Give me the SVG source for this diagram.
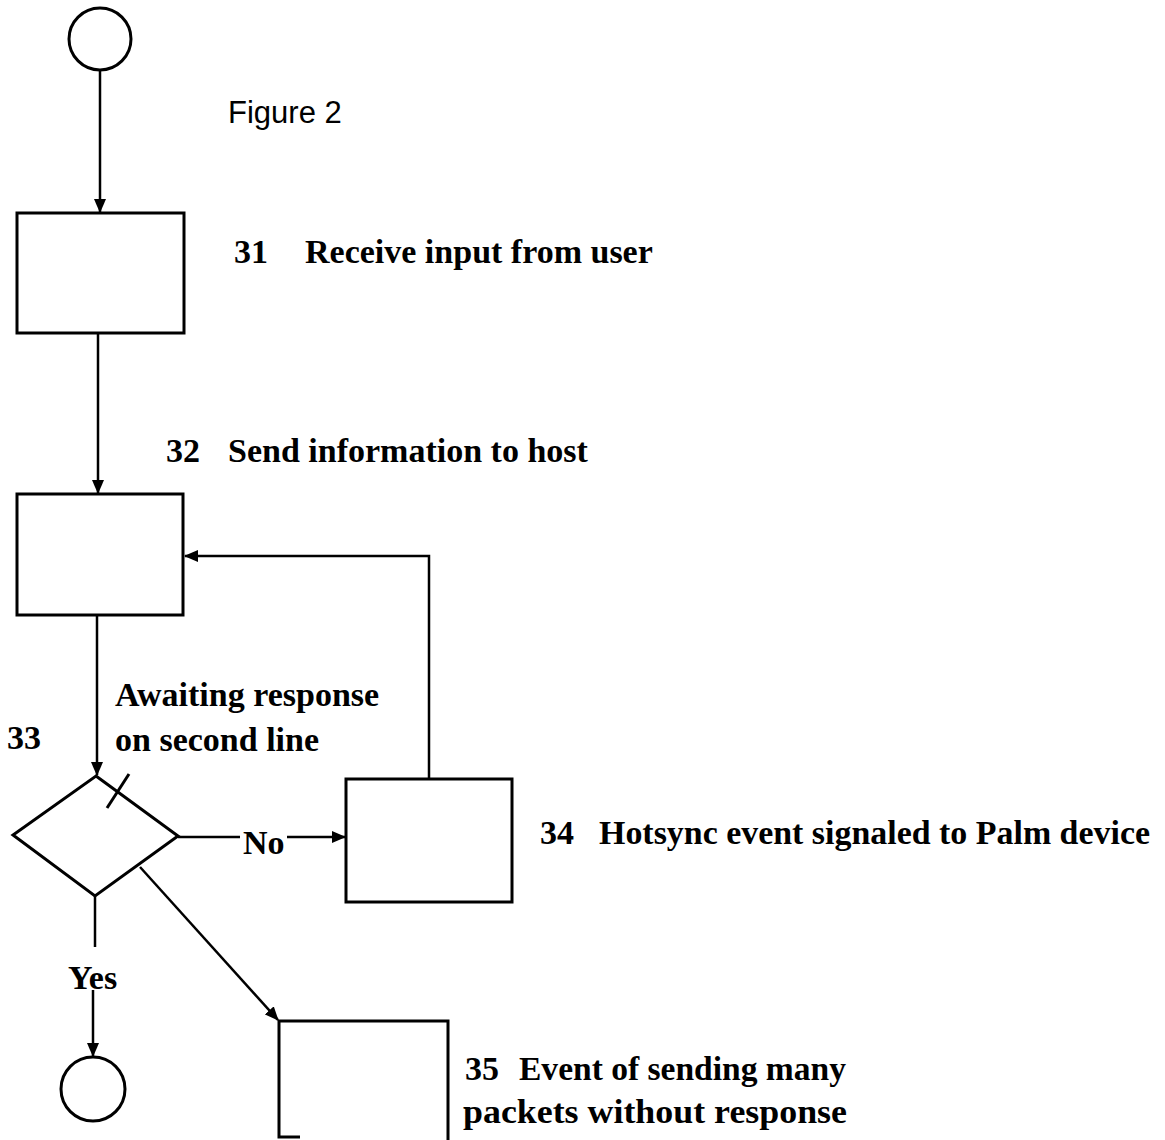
<svg xmlns="http://www.w3.org/2000/svg" width="1165" height="1140" viewBox="0 0 1165 1140">
<defs>
<style>
.shape{fill:none;stroke:#000;stroke-width:3}
.conn{fill:none;stroke:#000;stroke-width:2.5}
.lbl{font-family:"Liberation Serif","Times New Roman",serif;font-weight:bold;font-size:34px;fill:#000}
.fig{font-family:"Liberation Sans",Arial,sans-serif;font-size:31px;fill:#000}
</style>
<marker id="ah" markerUnits="userSpaceOnUse" markerWidth="14" markerHeight="12" viewBox="0 0 14 12" refX="13" refY="6" orient="auto">
<path d="M0,0 L14,6 L0,12 Z" fill="#000"/>
</marker>
</defs>
<rect width="1165" height="1140" fill="#fff"/>
<text class="fig" x="228" y="123">Figure 2</text>

<g id="start"><circle class="shape" cx="100" cy="39" r="31"/></g>
<g id="n31">
<rect class="shape" x="17" y="213" width="167" height="120"/>
<text class="lbl" x="234" y="263">31</text>
<text class="lbl" x="305" y="263">Receive input from user</text>
</g>
<g id="n32">
<rect class="shape" x="17" y="494" width="166" height="121"/>
<text class="lbl" x="166" y="462">32</text>
<text class="lbl" x="228" y="462">Send information to host</text>
</g>
<g id="n33">
<path class="shape" d="M96,776 L178,836 L95,896 L13,835 Z"/>
<line class="shape" x1="107" y1="808" x2="129" y2="774"/>
<text class="lbl" x="7" y="749">33</text>
<text class="lbl" x="115" y="706">Awaiting response</text>
<text class="lbl" x="115" y="751">on second line</text>
</g>
<g id="n34">
<rect class="shape" x="346" y="779" width="166" height="123"/>
<text class="lbl" x="540" y="844">34</text>
<text class="lbl" x="599" y="844" textLength="551" lengthAdjust="spacingAndGlyphs">Hotsync event signaled to Palm device</text>
</g>
<g id="end"><circle class="shape" cx="93" cy="1089" r="32"/></g>
<g id="n35">
<path class="shape" d="M300,1137 L279,1137 L279,1021 L448,1021 L448,1140"/>
<text class="lbl" x="465" y="1080">35</text>
<text class="lbl" x="519" y="1080" textLength="327" lengthAdjust="spacingAndGlyphs">Event of sending many</text>
<text class="lbl" x="463" y="1123" textLength="384" lengthAdjust="spacingAndGlyphs">packets without response</text>
</g>

<g id="connectors">
<line class="conn" x1="100" y1="70" x2="100" y2="212" marker-end="url(#ah)"/>
<line class="conn" x1="98" y1="333" x2="98" y2="493" marker-end="url(#ah)"/>
<line class="conn" x1="97" y1="615" x2="97" y2="775" marker-end="url(#ah)"/>
<polyline class="conn" points="429,779 429,556 185,556" marker-end="url(#ah)"/>
<line class="conn" x1="178" y1="837" x2="240" y2="837"/>
<line class="conn" x1="287" y1="837" x2="345" y2="837" marker-end="url(#ah)"/>
<text class="lbl" x="243" y="854">No</text>
<line class="conn" x1="95" y1="896" x2="95" y2="947"/>
<text class="lbl" x="68" y="989">Yes</text>
<line class="conn" x1="93" y1="990" x2="93" y2="1056" marker-end="url(#ah)"/>
<line class="conn" x1="140" y1="867" x2="278" y2="1020" marker-end="url(#ah)"/>
</g>
</svg>
